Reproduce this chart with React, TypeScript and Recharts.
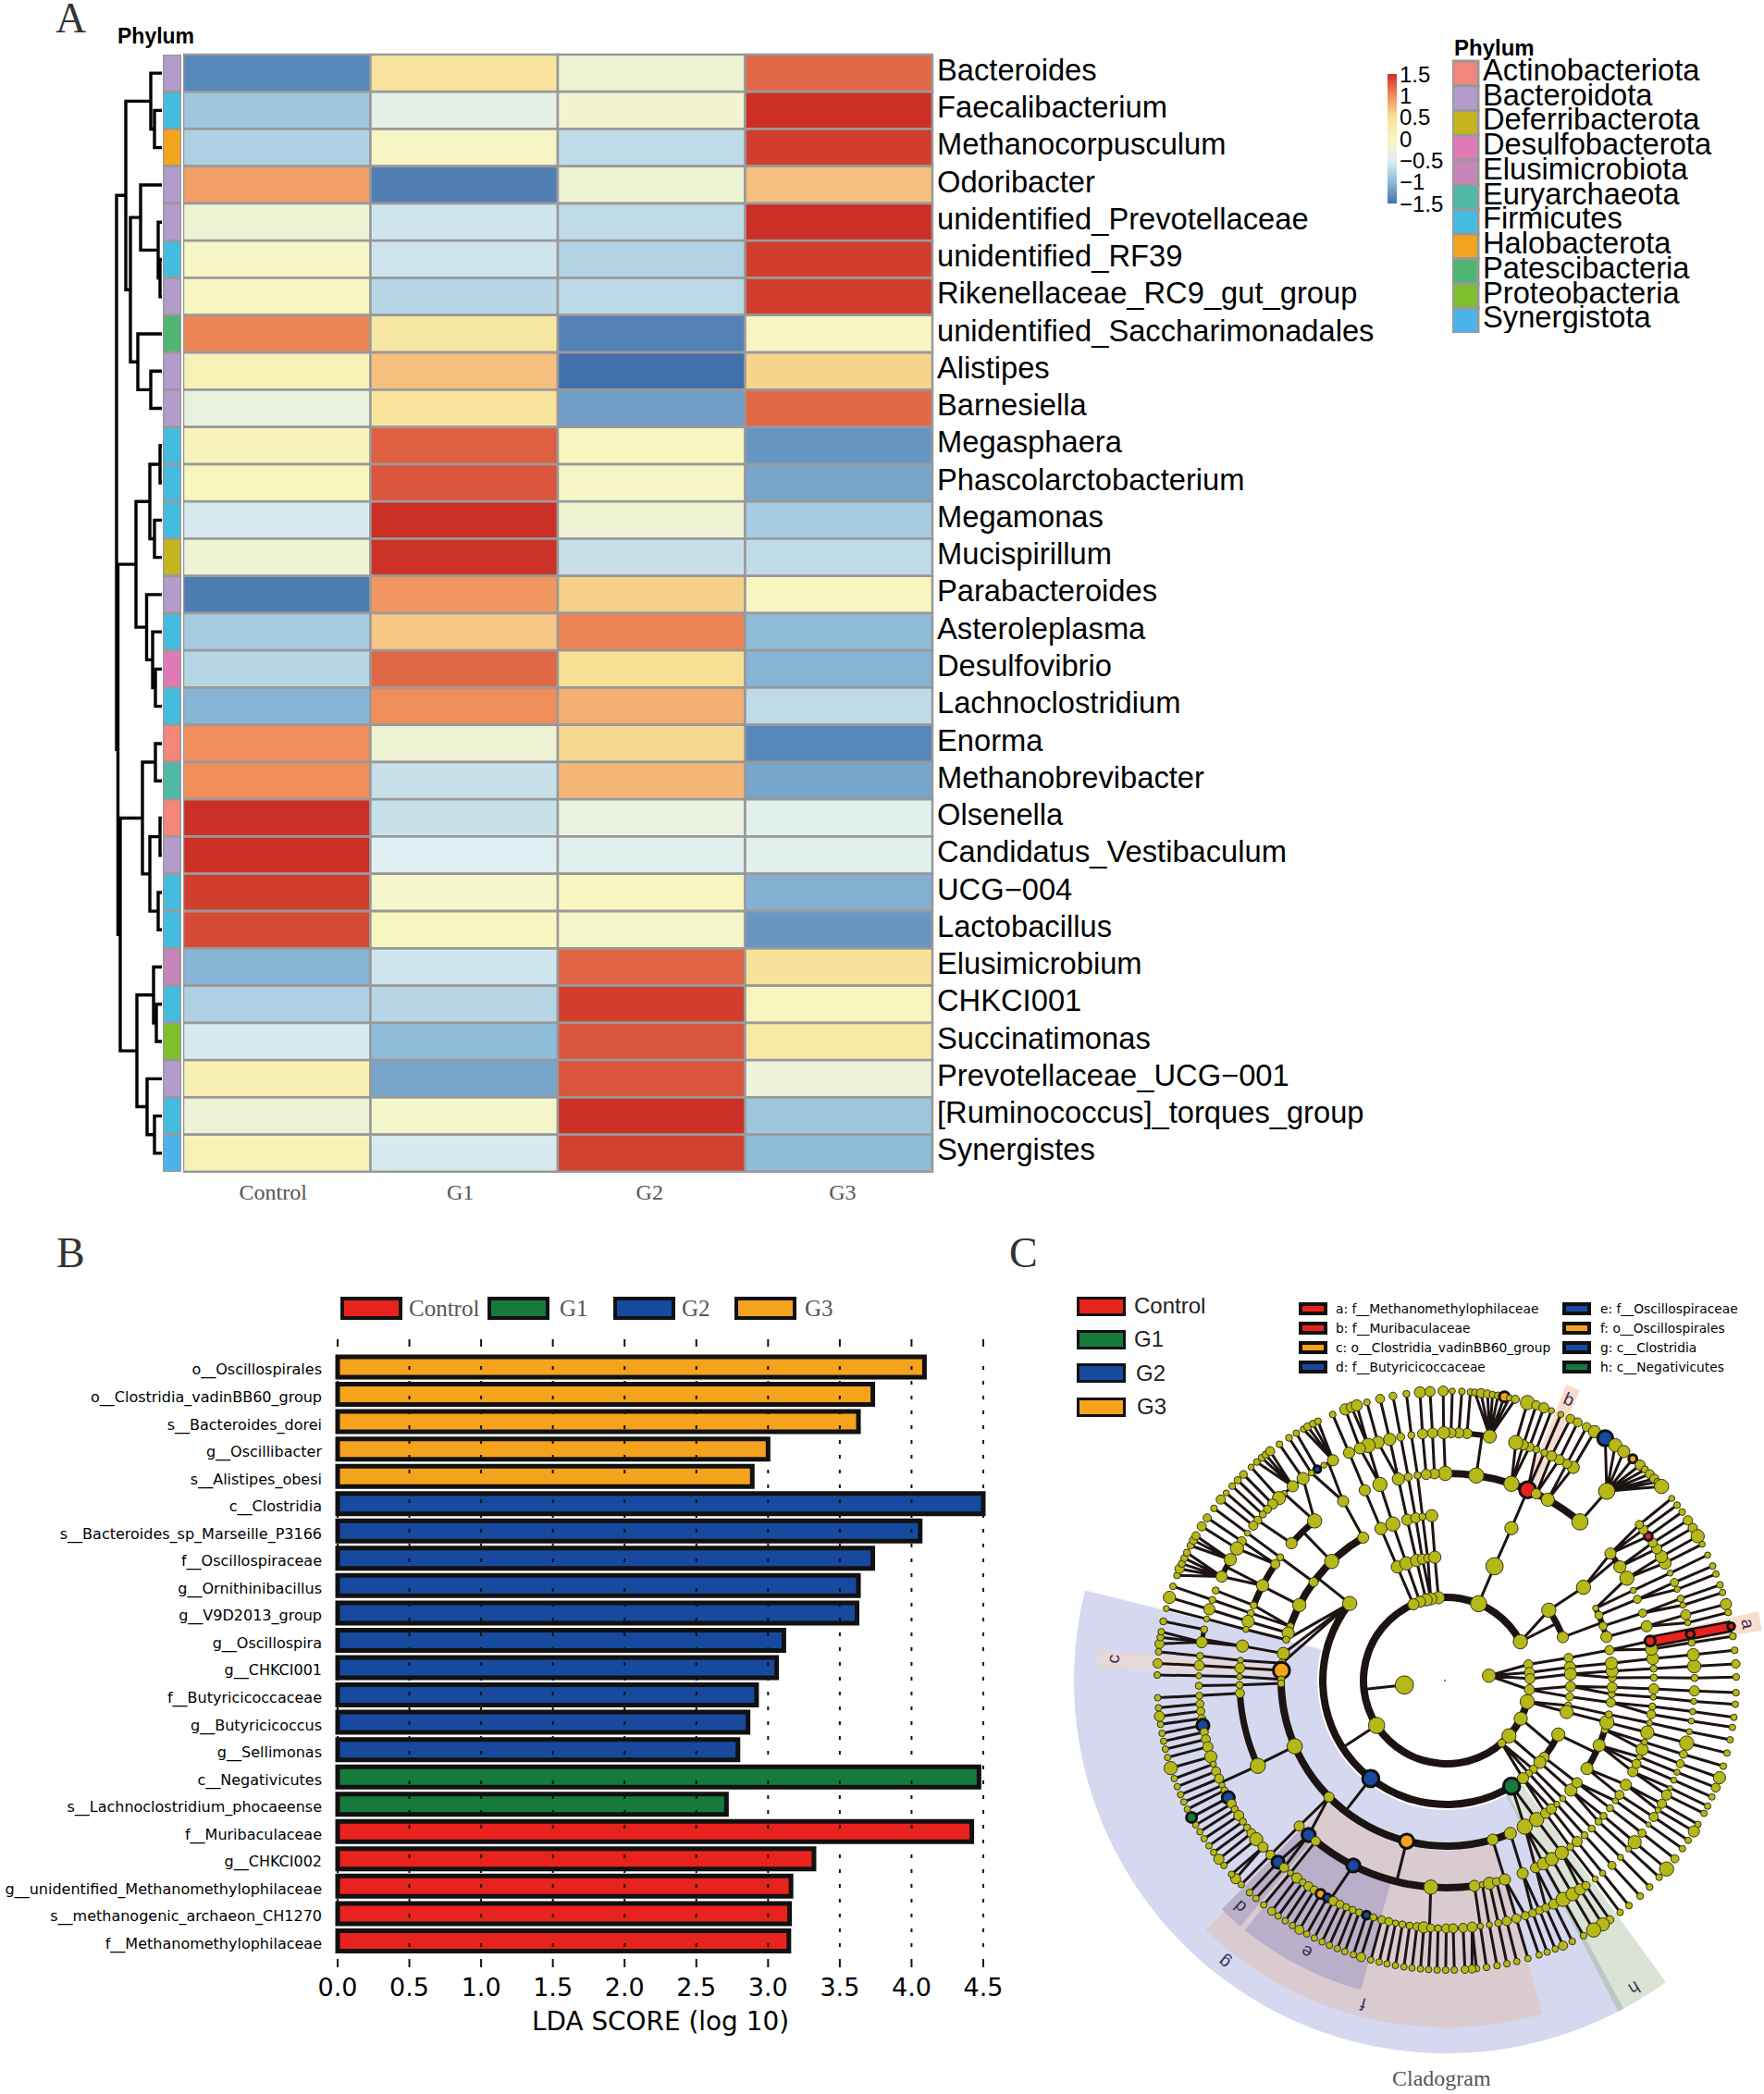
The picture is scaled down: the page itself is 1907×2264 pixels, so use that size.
import React from 'react';
import { BarChart, Bar, Cell, XAxis, YAxis, ScatterChart, Scatter, PieChart, Pie, ReferenceLine } from 'recharts';

/* ---------- Panel A: heatmap ---------- */
const genera = ['Bacteroides','Faecalibacterium','Methanocorpusculum','Odoribacter','unidentified_Prevotellaceae','unidentified_RF39','Rikenellaceae_RC9_gut_group','unidentified_Saccharimonadales','Alistipes','Barnesiella','Megasphaera','Phascolarctobacterium','Megamonas','Mucispirillum','Parabacteroides','Asteroleplasma','Desulfovibrio','Lachnoclostridium','Enorma','Methanobrevibacter','Olsenella','Candidatus_Vestibaculum','UCG−004','Lactobacillus','Elusimicrobium','CHKCI001','Succinatimonas','Prevotellaceae_UCG−001','[Ruminococcus]_torques_group','Synergistes'];
const zControl = [-1.35,-0.9,-0.8,0.9,-0.2,-0.05,0,1.05,0.1,-0.3,0.05,0.03,-0.55,-0.2,-1.42,-0.85,-0.75,-1.05,1.0,1.0,1.5,1.5,1.42,1.35,-1.05,-0.8,-0.55,0.15,-0.25,0.1];
const zG1 = [0.4,-0.4,-0.05,-1.4,-0.6,-0.6,-0.75,0.35,0.7,0.42,1.25,1.3,1.5,1.48,0.95,0.65,1.2,1.0,-0.2,-0.65,-0.65,-0.5,-0.1,0,-0.6,-0.75,-1.0,-1.15,-0.1,-0.55];
const zG2 = [-0.2,-0.15,-0.7,-0.2,-0.7,-0.78,-0.72,-1.38,-1.5,-1.2,0,-0.05,-0.2,-0.65,0.6,1.05,0.5,0.8,0.55,0.75,-0.3,-0.45,0,-0.1,1.22,1.42,1.3,1.3,1.5,1.4];
const zG3 = [1.2,1.5,1.42,0.7,1.5,1.42,1.42,-0.02,0.58,1.2,-1.25,-1.15,-0.85,-0.7,0,-1.0,-1.05,-0.7,-1.35,-1.15,-0.45,-0.45,-1.08,-1.25,0.45,0.02,0.3,-0.25,-0.9,-1.0];
const columns = ['Control','G1','G2','G3'];
const phyla = ['Actinobacteriota','Bacteroidota','Deferribacterota','Desulfobacterota','Elusimicrobiota','Euryarchaeota','Firmicutes','Halobacterota','Patescibacteria','Proteobacteria','Synergistota'];
const phylumColors = ['#f4857a','#b39ccb','#c4b51f','#e07ab6','#c586b7','#4fb9a5','#44bce0','#f3a41f','#4fb573','#7fbf2e','#4ab4ea'];
const rowPhylum = [1,6,7,1,1,6,1,8,1,1,6,6,6,2,1,6,3,6,0,5,0,1,6,6,4,6,9,1,6,10];
const colorTicks = [1.5,1,0.5,0,-0.5,-1,-1.5];
const scaleStops = ['#4170ab','#8fbcd8','#dfeff2','#f8f6c0','#f8e095','#f08e5b','#cb2f26'];
/* merges: [height, childA, childB]; children below 100 are rows, 100+k are merge k */
const dendroMerges = [[8,1,2],[12,0,100],[2,5,6],[4,4,102],[23,3,103],[12,8,9],[26,7,105],[34,104,106],[39,101,107],[2,10,11],[8,12,13],[13,109,110],[7,16,17],[10,15,112],[16.5,14,113],[28,111,114],[7,18,19],[2,20,21],[4,22,23],[13,117,118],[21,116,119],[6,25,26],[9,24,121],[8,28,29],[16,27,123],[27,122,124],[45,120,125],[47.5,115,126],[49,108,127]];

/* ---------- Panel B: LDA bars ---------- */
const ldaNames = ['o__Oscillospirales','o__Clostridia_vadinBB60_group','s__Bacteroides_dorei','g__Oscillibacter','s__Alistipes_obesi','c__Clostridia','s__Bacteroides_sp_Marseille_P3166','f__Oscillospiraceae','g__Ornithinibacillus','g__V9D2013_group','g__Oscillospira','g__CHKCI001','f__Butyricicoccaceae','g__Butyricicoccus','g__Sellimonas','c__Negativicutes','s__Lachnoclostridium_phocaeense','f__Muribaculaceae','g__CHKCI002','g__unidentified_Methanomethylophilaceae','s__methanogenic_archaeon_CH1270','f__Methanomethylophilaceae'];
const ldaValues = [4.09,3.73,3.63,3.0,2.89,4.5,4.06,3.73,3.63,3.62,3.11,3.06,2.92,2.86,2.79,4.47,2.71,4.42,3.32,3.16,3.15,3.145];
const ldaGroups = ['G3','G3','G3','G3','G3','G2','G2','G2','G2','G2','G2','G2','G2','G2','G2','G1','G1','Control','Control','Control','Control','Control'];
const groupNames = ['Control','G1','G2','G3'];
const groupColors: Record<string,string> = { Control:'#e8221c', G1:'#157a3c', G2:'#17499e', G3:'#f5a31c' };
const ldaTicks = [0,0.5,1,1.5,2,2.5,3,3.5,4,4.5];
const ldaGridDash = [9,13,...Array(40).fill('4 12'),0,9,8,100].join(' ');

/* ---------- Panel C: cladogram, angle in degrees, ring = taxonomic level ---------- */
const R='#e8221c', B='#17499e', G='#157a3c', O='#f5a31c';
type N = number | [number, number] | [number, number, string];
const ringRadii = [46,90,134,179,224,268,313];
const ring1: N[] = [[186,9],[6.6,6.5]];
const ring2: N[] = [[27.8,7],[67.5,8],[95.7,6],[101,6],[104.3,6],[108.8,5.5],[113.6,5.5],[212.6,8],[-14.7,7],[-27.2,6.5],[-41.6,7],[-48.7,4],[11.2,4.5],[5.6,5],[1.3,5],[-6.3,5]];
const ring3: N[] = [[141.5,7],[67.3,8.5],[34.6,7],[20.5,5.5],[232.2,8,B],[301.6,8,G],[-25.8,6.5],[-38.2,5],[-41.3,6],[-45.7,4],[-48.5,3.5],[-52,5.5],[113.5,6],[109,6.5],[104.1,6],[101.3,5],[98.8,4],[95.5,6],[10.5,4.5],[6.2,5.5],[3,6],[-2.7,5],[-7.5,4],[-11.6,3.5],[-14.7,6.5]];
const ring4: N[] = [[120.3,5.5],[134,7],[143.5,4.5],[152.9,6.5],[160.9,3.5],[163.3,6],[165.7,3.5],[170.6,6],[174,4],[176.5,8,O],[179.6,3.5],[-179,3.5],[-156.6,7.5],[-135.3,5],[-104,7,O],[-73.9,5.5],[-67.4,6],[-61.9,7.5],[-57.1,7],[-53.3,5],[-50.8,5],[-48.3,3],[-45.5,3],[-41.4,6],[-38.1,5],[-32.1,6],[-23,6],[-17.3,3.5],[-14.6,7],[-11.8,3.5],[-7.6,4.5],[-4.7,3.5],[-2.3,5],[1,4],[3.3,6],[6,6],[10.6,4.5],[15.3,5.5],[19.2,4],[23.2,4],[25.9,3],[34.3,7],[67,6.5],[113.4,6],[109,7],[103.8,5.5],[100.8,5],[98.4,3.5],[95.2,6]];
const ring5: N[] = [[90.4,7],[93.4,5],[95.7,5],[98.1,3.5],[100.7,4],[103.5,6],[108.8,7],[113.3,5.5],[120,5.5],[129.6,7],[138.5,5.5],[143.5,3.5],[145.8,4.5],[152.7,6],[158.7,3.5],[161,3.5],[163.4,6],[165.7,3],[170.4,6],[174.4,3],[176.5,5],[178.9,3],[-178.8,3.5],[-176.5,4.5],[-155.7,7.5],[-135.4,5],[-131.8,6.5,B],[-129.2,4.5],[-116.8,6.5,B],[-94.4,7],[-82.3,5.5],[-80.1,3],[-78.1,6],[-76.1,4],[-73.7,5.5],[-68.5,5.5],[-64.6,5],[-62.2,6],[-59.5,6.5],[-56.3,6.5],[-53.4,3.5],[-51,5],[-48.3,3.5],[-45.6,3.5],[-42.9,3.5],[-40.8,3.5],[-38,3.5],[-35.5,3],[-33.5,4.5],[-30.2,5.5],[-26.1,5],[-23.7,4.5],[-21.6,3],[-19.4,6],[-17.3,3],[-14.5,6.5],[-11.8,3],[-9.4,4.5],[-7.2,3.5],[-4.6,3],[-2.3,5],[0.8,3.5],[3.3,3.5],[6.1,6],[8.7,6],[11,5,R],[15.2,5.5],[19,4],[23.1,4],[25.8,3],[29.6,7],[33.3,6],[37.8,5.5],[81.8,7.5],[71.8,7.5],[67,8,R],[64.4,5],[60.8,6.5],[50,8]];
const ring6: N[] = [[49.8,8],[59.3,6],[61,4.5],[63,5],[65,5],[66.8,3.5],[68.8,3.5],[70.5,4.5],[72,5],[73.8,7],[80,6.5],[85.3,5],[87.2,5],[89,5],[90.7,6],[93.3,5],[95.6,5],[98.2,3.5],[100.7,4],[103.3,6],[106.1,6],[108.5,7],[110.5,5.5],[113.2,5.5],[117.3,5.5],[119.7,3],[121.5,3.5,B],[123.1,3],[125.4,6],[128.4,5.5],[131,3],[132.6,6.5],[134.6,5],[136.3,4],[137.9,3.5],[139.7,4],[141.3,4.5],[143.5,3],[145.8,4.5],[147.8,6.5],[150.8,6],[155.2,5.5],[158.7,3.5],[161,3.5],[163.3,5.5],[165.6,3],[168.1,3.5],[171.1,5.5],[174.3,3.5],[176.5,5],[178.9,3],[-178.8,3.5],[-176.5,3.5],[-174.6,4],[-172.9,4],[-171.2,4],[-169.6,6,B],[-168,4],[-166.3,4.5],[-164.5,5],[-162.1,6],[-160.3,3],[-158.5,4.5],[-156.7,4.5],[-155,3],[-153.7,3.5],[-151.8,6,B],[-150.2,4.5],[-148.7,3.5],[-147,5],[-145.3,3.5],[-143.6,3.5],[-142,4.5],[-140.2,6.5],[-137.8,5],[-135.3,4.5],[-132.9,6,B],[-131,4.5],[-129.1,3],[-127.2,5],[-125.5,3.5],[-123.9,4.5],[-122.3,4],[-120.6,4.5,O],[-118.8,4,B],[-117.2,4.5],[-115.5,4],[-113.9,3.5],[-112.3,3.5],[-110.7,3.5],[-108.9,4,B],[-107.2,3.5],[-105.2,4],[-103.5,4],[-101.9,3],[-100.3,3.5],[-98.6,3.5],[-96.9,4],[-95.3,5.5],[-93.7,4],[-92,3.5],[-90.1,4.5],[-88.5,4.5],[-86.2,4.5],[-84.1,5],[-82.2,3],[-80.1,3],[-78,3.5],[-76,4.5],[-73.7,4.5],[-71.5,4],[-69.7,4],[-68,4],[-66.4,4],[-64.4,5],[-62,7],[-59.5,6.5],[-57.4,5.5],[-55.8,4],[-53.2,3],[-51,3],[-48.2,4],[-45.5,3],[-42.8,3],[-40.7,6.5],[-38,4],[-35.5,2.5],[-33.4,4.5],[-31.5,3],[-29.8,4.5],[-27.5,5],[-25.7,2.5],[-23.7,3],[-21.7,3],[-19.6,4],[-17.3,4],[-14.6,7],[-11.9,3],[-9.4,3],[-7.2,3],[-4.8,3],[-2.4,5],[0.6,3.5],[3.3,6.5],[6,6],[8.8,3.5],[10.8,4,R],[13.5,3],[15.4,5],[17.7,3],[19.3,3.5],[21.6,3],[23.3,4],[25.7,3],[28.3,6],[30,6],[32.1,5],[33.8,4.5],[35.6,4,R],[37.5,4.5],[39,4]];
const ring7: N[] = [[178.9,3.3],[176.6,4.6],[174.3,3.3],[172.7,4.6],[171.4,3.5],[170.3,3.3],[168.2,3.5],[165.6,3],[163.3,6],[161,3.3],[158.7,3.3],[157.3,4.6],[156.2,3.5],[155,3.5],[153.8,3.5],[152.2,3.5],[151,4],[150,4],[147.8,4.5],[145.8,4],[143.5,3.3],[141.3,4.5],[139.6,3],[137.8,3.3],[136.2,3.6],[134.6,3.8],[132.5,3],[131,3.3],[129.7,3.5],[128.7,3.5],[127.6,4.5],[125.3,3.3],[123,3.4],[121.3,3.2],[119.7,3],[118.7,3.8],[117.5,3.5],[116.4,3.3],[113.2,3.3],[110.5,5.5],[109.2,5],[108.1,5.5],[106,3.3],[103.3,4.4],[100.7,3.8],[98,3.4],[95.3,5.5],[93.3,5],[90.7,5],[88.9,3],[87,3.3],[85.3,3.3],[84.4,3.5],[83.2,4.5],[81.9,4],[80.9,3.3],[79.8,3.6],[78.5,5,O],[77.5,3],[76.3,4],[73.8,7],[72,4.5],[70.4,5],[68.8,3],[66.8,3],[64.7,4.4],[63.1,4.4],[61.1,4.4],[59.3,6],[56.8,7.5,B],[54.4,6.5],[52.3,6],[50,4,O],[48.1,5],[46.8,3.5],[45.5,4.4],[44.2,4.5],[43.3,3.5],[42.1,7],[39,3],[37.3,3.3],[35.6,3.3],[33.6,4.6],[31.8,4.6],[29.9,6.5],[28.1,3],[25.7,3],[23.3,3.3],[21.6,3.2],[19.3,3.3],[17.7,3.2],[15.3,5.5],[13.6,3.3],[10.8,3.5,R],[8.8,3.5],[6,3.3],[3.3,4.2],[0.7,3.3],[-2.4,3.3],[-4.7,3.2],[-7.3,3.2],[-9.3,3.2],[-11.8,3.2],[-14.5,3.2],[-17.2,3.3],[-19.6,6],[-21.7,4.4],[-23.7,3.2],[-25.7,3.2],[-27.3,3.2],[-29.8,3.2],[-31.4,5.5],[-33.5,3.2],[-35.5,3.2],[-38,4],[-40.6,7],[-42.8,3.3],[-45.5,3.3],[-48.1,3.3],[-51,3.3],[-53.2,3.3],[-55.7,4],[-57.4,6.5],[-59.5,7],[-61.8,3.3],[-64.3,3.3],[-66.3,4.5],[-68,3.2],[-69.7,3.2],[-71.4,3.2],[-73.7,3.2],[-76,3.2],[-78,3.3],[-80,3.3],[-82.1,3.3],[-84.1,3.3],[-85,4],[-86.4,3.8],[-88.5,3.3],[-90.2,3.3],[-91.9,3.3],[-93.6,3.2],[-95.2,3.2],[-96.9,3.2],[-98.5,3.2],[-100.2,3.2],[-101.9,3.2],[-103.5,3.2],[-105.2,3.2],[-107.2,4.5],[-108.8,3.2],[-110.6,3.2],[-112.2,3.2],[-113.9,3.2],[-115.5,3.2],[-117.2,3.2],[-118.9,3.2],[-120.6,4.5],[-122.2,3.2],[-123.9,3.2],[-125.6,3.2],[-127.2,4],[-129.2,3.2],[-131.2,3.2],[-132.9,3.4],[-135.2,3.2],[-136.8,5],[-138,3.2],[-140.3,3.2],[-141.9,5],[-143.6,3.2],[-145.2,3.2],[-146.9,3.2],[-148.5,3.2],[-150.1,3.2],[-151.8,5,G],[-153.6,3.2],[-155.2,3.2],[-156.8,3.2],[-158.5,3.2],[-160.2,3.2],[-162.4,6.5],[-164.6,3.2],[-166.3,3.2],[-167.9,3.2],[-169.5,3.2],[-171.3,3.2],[-172.9,5],[-174.6,3.2],[-176.6,3.2]];
/* arcs: [ring, from, to, parent angle, link angle, width] */
const cladeArcs = [[2,27.8,345.3,186,186,8],[3,141.5,301.6,212.6,212.8,8],[3,20.5,34.6,27.8,27.5,7],[3,321.8,334.2,332.8,328.5,7],[4,120.3,165,141.5,141.5,8],[4,176.5,292.6,232.2,232.2,8],[4,15.3,25.9,20.5,20.5,6],[4,327.9,342.7,334.2,334.2,7],[5,50,95.7,67,67,8],[5,129.6,138.5,134,134,7],[5,145.8,158.7,152.9,152.9,7],[5,183.5,204.3,203.4,204,7],[5,230.8,277.7,256,256,8],[5,277.7,286.3,286.1,286.3,3],[5,33.3,37.8,34.3,35.5,6],[6,80,90,81.8,81.8,6],[6,150.8,155.2,152.7,152.7,6],[6,168.1,171.1,170.4,170.4,5],[6,185.4,224,204.3,204.3,3],[6,231,253,243.2,242,3],[6,253,276,265.6,266,3],[6,117.3,123.1,120,118.5,3],[6,125.4,135,129.6,131,3],[6,135,141.3,138.5,139.7,3]];
/* fans: [ring-6 parent angle, lowest leaf, highest leaf] */
const cladeFans = [[80,76,84.5],[49.8,42,57],[117.3,116.3,119.8],[128.4,127.5,131.1],[150.8,149.9,152.3],[155.2,153.7,158.8],[171.1,170.2,172.8]];
/* shaded clades: [name, inner, outer, from, to, colour] */
const cladeSectors: [string,number,number,number,number,string][] = [['g',140,403,166,298,'#d5d8ee'],['h',140,403,298,306,'#dbe2d6'],['gh',140,403,297.4,298.3,'#b9c7c6'],['f',184,375,226,286,'#d9cbd0'],['c',184,378,175,178,'#e6d8d8'],['d',228,347,225.5,230,'#b8b0c9'],['e',228,347,231,254.5,'#b9afc8'],['a',226,345,9,12.5,'#f8dccd'],['b',226,345,65.3,68,'#f8dccd']];
const sectorLabels = [['a',10.7,330],['b',66.5,330],['c',176.3,360],['d',-132.4,330],['e',-117.3,329],['f',-104.5,360],['g',-128.3,387],['h',-58.6,388]] as [string,number,number][];
const cladeLegendA = [['a: f__Methanomethylophilaceae',R],['b: f__Muribaculaceae',R],['c: o__Clostridia_vadinBB60_group',O],['d: f__Butyricicoccaceae',B]];
const cladeLegendB = [['e: f__Oscillospiraceae',B],['f: o__Oscillospirales',O],['g: c__Clostridia',B],['h: c__Negativicutes',G]];

/* ---------- derived tables ---------- */
const hex = (s: string) => [1,3,5].map(i => parseInt(s.slice(i,i+2),16));
function heatColor(z: number) {
  const t = Math.max(0, Math.min(5.999, (z + 1.5) * 2));
  const i = Math.floor(t), f = t - i;
  const a = hex(scaleStops[i]), b = hex(scaleStops[i+1]);
  return `rgb(${a.map((v,k)=>Math.round(v+(b[k]-v)*f)).join(',')})`;
}
const zCols = [zControl, zG1, zG2, zG3];
const heatRows = genera.map((name) => ({ name, c0:1, c1:1, c2:1, c3:1, a:1 }));
const phylumRows = phyla.map(name => ({ name, v:1 }));
const ldaRows = ldaNames.map((name,i) => ({ name, value: ldaValues[i], group: ldaGroups[i] }));
const colorBarRows = [{ k:'scale', range:[-1.5,1.5] }];

const rowY = (i: number) => i + 0.5;
const dendroNodes: {h:number,y:number}[] = [];
const dendroRef = (c: number) => c >= 100 ? dendroNodes[c-100] : { h:0, y:rowY(c) };
const dendroPaths = dendroMerges.map(([h,a,b]) => {
  const A = dendroRef(a), Bn = dendroRef(b);
  dendroNodes.push({ h, y:(A.y+Bn.y)/2 });
  return [{x:A.h,y:A.y},{x:h,y:A.y},{x:h,y:Bn.y},{x:Bn.h,y:Bn.y}];
});

const norm = (a: number) => ((a % 360) + 360) % 360;
const gap = (a: number, b: number) => { const d = Math.abs(norm(a)-norm(b)); return Math.min(d, 360-d); };
const polar = (ring: number, a: number) => {
  const r = ringRadii[ring-1], t = a*Math.PI/180;
  return { x:r*Math.cos(t), y:r*Math.sin(t) };
};
const allRings = [ring1,ring2,ring3,ring4,ring5,ring6,ring7];
type Node = {x:number,y:number,ring:number,a:number,s:number,c?:string,id:number};
const cladeNodes: Node[] = [];
const byRing: Node[][] = allRings.map((list,ri) => list.map(n => {
  const t = (Array.isArray(n) ? n : [n,3.5]) as [number,number,string?];
  const node: Node = { ...polar(ri+1,t[0]), ring:ri+1, a:norm(t[0]), s:t[1], c:t[2], id:cladeNodes.length };
  cladeNodes.push(node);
  return node;
}));
const nearest = (ring: number, a: number) => byRing[ring-1].reduce((m,n) => gap(n.a,a) < gap(m.a,a) ? n : m);
const adjacency: number[][] = cladeNodes.map(() => []);
cladeNodes.forEach(n => {
  if (n.ring === 1) return;
  let parent: Node | null = null;
  const fan = n.ring === 7 ? cladeFans.find(f => n.a >= f[1] && n.a <= f[2]) : undefined;
  if (fan) parent = nearest(6, fan[0]);
  else if (!cladeArcs.some(r => r[0]===n.ring && n.a >= r[1] && n.a <= r[2])) parent = nearest(n.ring-1, n.a);
  if (parent) { adjacency[n.id].push(parent.id); adjacency[parent.id].push(n.id); }
});
const seen = new Set<number>();
const cladeTours: {x:number,y:number}[][] = [];
cladeNodes.forEach(root => {
  if (seen.has(root.id)) return;
  const path: {x:number,y:number}[] = [];
  const walk = (id: number) => {
    seen.add(id);
    const p = { x:cladeNodes[id].x, y:cladeNodes[id].y };
    path.push(p);
    adjacency[id].forEach(k => { if (!seen.has(k)) { walk(k); path.push(p); } });
  };
  walk(root.id);
  if (path.length > 1) cladeTours.push(path);
});
const arcLinks = cladeArcs.map(r => [polar(r[0]-1,r[3]), polar(r[0],r[4])]);
const redLineage = [polar(5,10.8), polar(7,10.8)];
const labelPoints = sectorLabels.map(([t,a,r]) => ({ t, a, x:r*Math.cos(a*Math.PI/180), y:r*Math.sin(a*Math.PI/180) }));
const centreDot = [{x:-2,y:0}];

const SANS = '"Liberation Sans", Arial, sans-serif';
const SERIF = '"Liberation Serif", serif';
const DEJA = '"DejaVu Sans", sans-serif';
const none = () => <g />;

const Txt = ({x,y,size,color='#000',font=SANS,bold=false,lh=1.2,children}: any) => (
  <div style={{position:'absolute',left:x,top:y-size*lh/2,height:size*lh,lineHeight:`${size*lh}px`,fontSize:size,color,fontFamily:font,fontWeight:bold?700:400,whiteSpace:'nowrap'}}>{children}</div>
);
const Swatch = ({x,y,w,h,color,b=4}: any) => (
  <div style={{position:'absolute',left:x,top:y,width:w,height:h,boxSizing:'border-box',border:`${b}px solid #111`,background:color}} />
);
const abs = (left: number, top: number): React.CSSProperties => ({ position:'absolute', left, top });

const NodeDot = (p: any) => {
  const n = p.payload;
  return <circle cx={p.cx} cy={p.cy} r={n.s*1.1} fill={n.c || '#b5b817'} stroke={n.c ? '#111' : '#33330f'} strokeWidth={n.c ? 3 : 1} />;
};
const CentreDot = (p: any) => <circle cx={p.cx} cy={p.cy} r={1.2} fill="#8a9a2e" />;
const LabelShape = (p: any) => {
  const n = p.payload;
  return <text x={p.cx} y={p.cy} textAnchor="middle" dominantBaseline="middle" fontSize={19} fontFamily={SANS} fill="#3a2d55" transform={`rotate(${90-n.a} ${p.cx} ${p.cy})`}>{n.t}</text>;
};

export default function App() {
  return (
    <div style={{position:'absolute',left:0,top:0,width:1907,height:2264,overflow:'hidden',background:'#fff'}}>
      <Txt x={60} y={20} size={46} lh={0.87} font={SERIF} color="#333">A</Txt>
      <Txt x={61} y={1355} size={46} font={SERIF} color="#333">B</Txt>
      <Txt x={1091} y={1355} size={46} font={SERIF} color="#333">C</Txt>
      <Txt x={127} y={40} size={23} bold>Phylum</Txt>
      <Txt x={1572} y={52} size={24} bold>Phylum</Txt>

      {/* dendrogram */}
      <div style={abs(118,59)}>
        <ScatterChart width={57} height={1208} margin={{top:0,right:0,bottom:0,left:0}}>
          <XAxis type="number" dataKey="x" domain={[0,57]} reversed hide />
          <YAxis type="number" dataKey="y" domain={[0,30]} reversed hide />
          {dendroPaths.map((d,i) => <Scatter key={i} data={d} line={{stroke:'#000',strokeWidth:3.4}} shape={none} isAnimationActive={false} />)}
        </ScatterChart>
      </div>

      {/* phylum annotation column */}
      <div style={abs(176,59)}>
        <BarChart width={20} height={1208} data={heatRows} layout="vertical" barCategoryGap={0} margin={{top:0,right:0,bottom:0,left:0}}>
          <XAxis type="number" domain={[0,1]} hide />
          <YAxis type="category" dataKey="name" hide />
          <Bar dataKey="a" isAnimationActive={false} stroke="#999" strokeWidth={2.5}>
            {heatRows.map((_,i) => <Cell key={i} fill={phylumColors[rowPhylum[i]]} stroke="#999" strokeWidth={2.5} />)}
          </Bar>
        </BarChart>
      </div>

      {/* heatmap */}
      <div style={abs(198,47)}>
        <BarChart width={1290} height={1272} data={heatRows} layout="vertical" barCategoryGap={0} margin={{top:12,right:0,bottom:0,left:0}}>
          <XAxis type="number" domain={[0,4]} ticks={[0.48,1.48,2.49,3.52]} tickFormatter={(v:number) => columns[Math.floor(v)]} axisLine={false} tickLine={false} tickSize={0} height={52} tickMargin={13} tick={{fill:'#555',fontSize:24,fontFamily:SERIF}} interval={0} />
          <YAxis type="category" dataKey="name" orientation="right" width={480} axisLine={false} tickLine={false} tickSize={0} tickMargin={5} interval={0} tick={{fill:'#000',fontSize:32.7,fontFamily:SANS,dy:-4}} />
          {columns.map((c,j) => (
            <Bar key={c} dataKey={`c${j}`} stackId="h" isAnimationActive={false} stroke="#999" strokeWidth={2.5}>
              {heatRows.map((_,i) => <Cell key={i} fill={heatColor(zCols[j][i])} stroke="#999" strokeWidth={2.5} />)}
            </Bar>
          ))}
        </BarChart>
      </div>

      {/* colour bar */}
      <div style={abs(1500,65)}>
        <BarChart width={90} height={170} data={colorBarRows} barCategoryGap={0} margin={{top:15,right:0,bottom:15,left:0}}>
          <defs>
            <linearGradient id="cbGrad" x1="0" y1="1" x2="0" y2="0">
              {scaleStops.map((c,i) => <stop key={i} offset={i/6} stopColor={c} />)}
            </linearGradient>
          </defs>
          <XAxis dataKey="k" hide />
          <YAxis type="number" orientation="right" width={80} domain={[-1.5,1.5]} ticks={colorTicks} interval={0} axisLine={false} tickLine={false} tickSize={0} tickMargin={3} tickFormatter={(v:number)=>String(v).replace('-','−')} tick={{fill:'#000',fontSize:24,fontFamily:SANS}} />
          <Bar dataKey="range" fill="url(#cbGrad)" isAnimationActive={false} />
        </BarChart>
      </div>

      {/* phylum legend */}
      <div style={abs(1570,54)}>
        <BarChart width={337} height={306} data={phylumRows} layout="vertical" barCategoryGap={0} margin={{top:12,right:0,bottom:0,left:0}}>
          <XAxis type="number" domain={[0,1]} hide />
          <YAxis type="category" dataKey="name" orientation="right" width={309} axisLine={false} tickLine={false} tickSize={0} tickMargin={5} interval={0} tick={{fill:'#000',fontSize:32.7,fontFamily:SANS,dy:-4}} />
          <Bar dataKey="v" isAnimationActive={false} stroke="#999" strokeWidth={3}>
            {phylumRows.map((_,i) => <Cell key={i} fill={phylumColors[i]} stroke="#999" strokeWidth={3} />)}
          </Bar>
        </BarChart>
      </div>

      {/* Panel B legend */}
      {groupNames.map((g,i) => <Swatch key={g} x={[368,527,663,794][i]} y={1402} w={67} h={25} color={groupColors[g]} b={4} />)}
      {groupNames.map((g,i) => <Txt key={g} x={[442,605,737,870][i]} y={1415} size={25} font={SERIF} color="#555">{g}</Txt>)}

      {/* Panel B */}
      <div style={abs(0,1448)}>
        <BarChart width={1100} height={762} data={ldaRows} layout="vertical" margin={{top:0,right:37,bottom:0,left:0}}>
          <XAxis type="number" domain={[0,4.5]} ticks={ldaTicks} interval={0} axisLine={false} tickLine={false} height={83} tickMargin={6} tickFormatter={(v:number)=>v.toFixed(1)} tick={{fill:'#000',fontSize:27,fontFamily:DEJA}} label={{value:'LDA SCORE (log 10)',position:'insideBottom',offset:15,fontSize:27.9,fontFamily:DEJA,fill:'#000'}} />
          <YAxis type="category" dataKey="name" width={365} axisLine={false} tickLine={false} tickSize={0} tickMargin={17} interval={0} padding={{top:15,bottom:14}} tick={{fill:'#000',fontSize:16,fontFamily:DEJA,dy:3}} />
          <Bar dataKey="value" barSize={22} stroke="#111" strokeWidth={5} isAnimationActive={false}>
            {ldaRows.map((r,i) => <Cell key={i} fill={groupColors[r.group]} stroke="#111" strokeWidth={5} />)}
          </Bar>
          {ldaTicks.map(t => <ReferenceLine key={t} x={t} stroke="#111" strokeWidth={2} strokeDasharray={ldaGridDash} />)}
        </BarChart>
      </div>

      {/* Panel C legends */}
      {groupNames.map((g,i) => <Swatch key={g} x={1164} y={[1402,1438,1474,1511][i]} w={53} h={21} color={groupColors[g]} b={3} />)}
      {groupNames.map((g,i) => <Txt key={g} x={[1226,1226,1228,1229][i]} y={[1412,1448,1485,1521][i]} size={24} color="#222">{g}</Txt>)}
      {cladeLegendA.map(([t,c],i) => <React.Fragment key={t}><Swatch x={1404} y={1408+i*21} w={31} h={14} color={c} b={4} /><Txt x={1444} y={1415+i*21} size={13.8} font={DEJA}>{t}</Txt></React.Fragment>)}
      {cladeLegendB.map(([t,c],i) => <React.Fragment key={t}><Swatch x={1689} y={1408+i*21} w={31} h={14} color={c} b={4} /><Txt x={1730} y={1415+i*21} size={13.8} font={DEJA}>{t}</Txt></React.Fragment>)}

      {/* Panel C: shaded clades and arcs */}
      <div style={abs(1144,1397)}>
        <PieChart width={840} height={840} margin={{top:0,right:0,bottom:0,left:0}}>
          {cladeSectors.map(([n,ri,ro,a0,a1,col]) => (
            <Pie key={n} data={[{value:a1-a0}]} dataKey="value" cx={420} cy={420} innerRadius={ri} outerRadius={ro} startAngle={a0} endAngle={a1} fill={col} stroke="none" isAnimationActive={false} />
          ))}
          {cladeArcs.map((r,i) => {
            const rad = ringRadii[r[0]-1];
            return <Pie key={i} data={[{value:r[2]-r[1]}]} dataKey="value" cx={420} cy={420} innerRadius={rad-r[5]/2} outerRadius={rad+r[5]/2} startAngle={r[1]} endAngle={r[2]} fill="#1c1412" stroke="none" isAnimationActive={false} />;
          })}
        </PieChart>
      </div>
      {/* Panel C: lineages and taxa */}
      <div style={abs(1144,1397)}>
        <ScatterChart width={840} height={840} margin={{top:0,right:0,bottom:0,left:0}}>
          <XAxis type="number" dataKey="x" domain={[-420,420]} hide />
          <YAxis type="number" dataKey="y" domain={[-420,420]} hide />
          {cladeTours.map((d,i) => <Scatter key={`t${i}`} data={d} line={{stroke:'#1c1412',strokeWidth:3}} shape={none} isAnimationActive={false} />)}
          {arcLinks.map((d,i) => <Scatter key={`l${i}`} data={d} line={{stroke:'#1c1412',strokeWidth:3}} shape={none} isAnimationActive={false} />)}
          <Scatter data={redLineage} line={{stroke:'#111',strokeWidth:13}} shape={none} isAnimationActive={false} />
          <Scatter data={redLineage} line={{stroke:R,strokeWidth:8}} shape={none} isAnimationActive={false} />
          <Scatter data={cladeNodes} shape={NodeDot} isAnimationActive={false} />
          <Scatter data={centreDot} shape={CentreDot} isAnimationActive={false} />
          <Scatter data={labelPoints} shape={LabelShape} isAnimationActive={false} />
        </ScatterChart>
      </div>
      <Txt x={1505} y={2247} size={24} font={SERIF} color="#555">Cladogram</Txt>
    </div>
  );
}
